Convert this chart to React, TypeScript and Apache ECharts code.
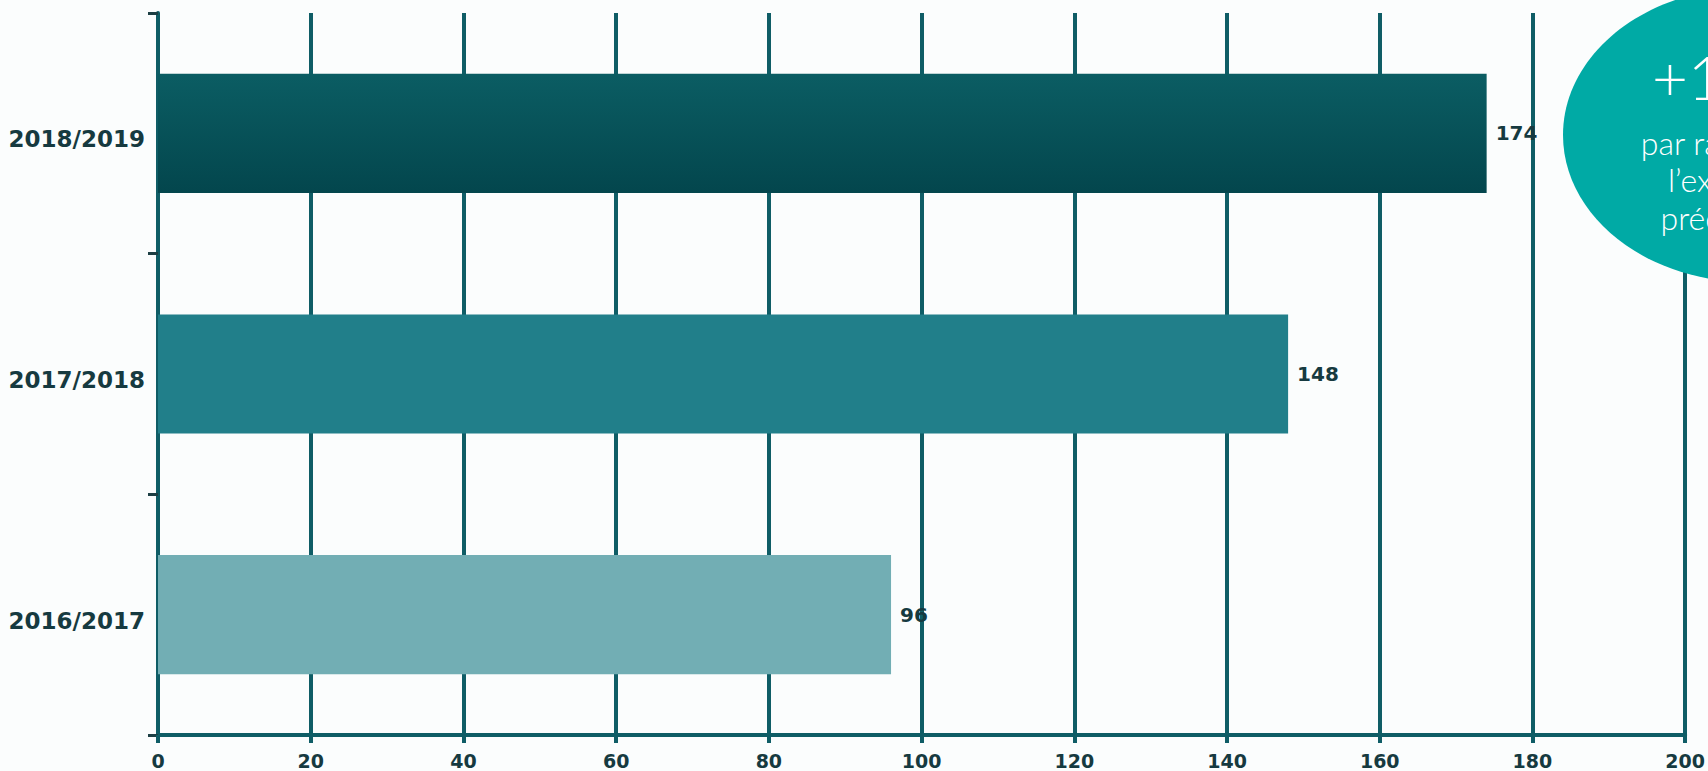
import React, { useEffect, useRef } from "react";
import * as echarts from "echarts";

const categories = ["2016/2017", "2017/2018", "2018/2019"];
const values = [96, 148, 174];
const xTicks = [0, 20, 40, 60, 80, 100, 120, 140, 160, 180, 200];
const bubbleLines = ["+18%", "par rapport à", "l’exercice", "précédent"];

const LINE = "#0f5d66";
const TEXT = "#163a40";

export default function App() {
  const ref = useRef<HTMLDivElement>(null);
  useEffect(() => {
    if (!ref.current) return;
    const chart = echarts.init(ref.current, undefined, { renderer: "svg" });
    const barColors = [
      "#72aeb4",
      "#217f8a",
      new echarts.graphic.LinearGradient(0, 0, 0, 1, [
        { offset: 0, color: "#0b5d63" },
        { offset: 1, color: "#03464d" },
      ]),
    ];
    const bubbleY = [76, 142, 179, 217];
    chart.setOption({
      animation: false,
      backgroundColor: "#fbfdfd",
      grid: { left: 158, right: 18, top: 13, bottom: 36, containLabel: false },
      xAxis: {
        type: "value",
        min: xTicks[0],
        max: xTicks[xTicks.length - 1],
        interval: 20,
        axisLine: { show: true, lineStyle: { color: LINE, width: 4 } },
        axisTick: { show: true, length: 8, lineStyle: { color: LINE, width: 4 } },
        splitLine: { show: true, lineStyle: { color: LINE, width: 4 } },
        axisLabel: {
          margin: 16,
          color: TEXT,
          fontFamily: "DejaVu Sans",
          fontWeight: "bold",
          fontSize: 19,
        },
      },
      yAxis: {
        type: "category",
        data: categories,
        axisLine: { show: true, lineStyle: { color: LINE, width: 4 } },
        axisTick: { show: true, length: 10, lineStyle: { color: "#1d3f44", width: 3 } },
        splitLine: { show: false },
        axisLabel: {
          margin: 13,
          formatter: "{a|{value}}",
          rich: {
            a: {
              color: TEXT,
              fontFamily: "DejaVu Sans",
              fontWeight: "bold",
              fontSize: 23,
              padding: [12, 0, 0, 0],
            },
          },
        },
      },
      series: [
        {
          type: "bar",
          data: values.map((v, i) => ({ value: v, itemStyle: { color: barColors[i] } })),
          barWidth: "49.5%",
          z: 3,
          label: {
            show: true,
            position: "right",
            distance: 9,
            color: TEXT,
            fontFamily: "DejaVu Sans",
            fontWeight: "bold",
            fontSize: 20,
          },
        },
      ],
      graphic: [
        {
          type: "ellipse",
          z: 10,
          shape: { cx: 1749, cy: 135, rx: 186, ry: 147 },
          style: { fill: "#00aaa5" },
        },
        ...bubbleLines.map((t, i) => ({
          type: "text",
          z: 11,
          x: 1730,
          y: bubbleY[i],
          style: {
            text: t,
            fill: "#ffffff",
            fontFamily: "Lato, 'Open Sans', sans-serif",
            fontWeight: 300,
            fontSize: i === 0 ? 62 : 32,
            align: "center",
            verticalAlign: "middle",
          },
        })),
      ],
    });
    return () => chart.dispose();
  }, []);
  return (
    <div
      ref={ref}
      style={{ position: "fixed", left: 0, top: 0, width: 1708, height: 771 }}
    />
  );
}
